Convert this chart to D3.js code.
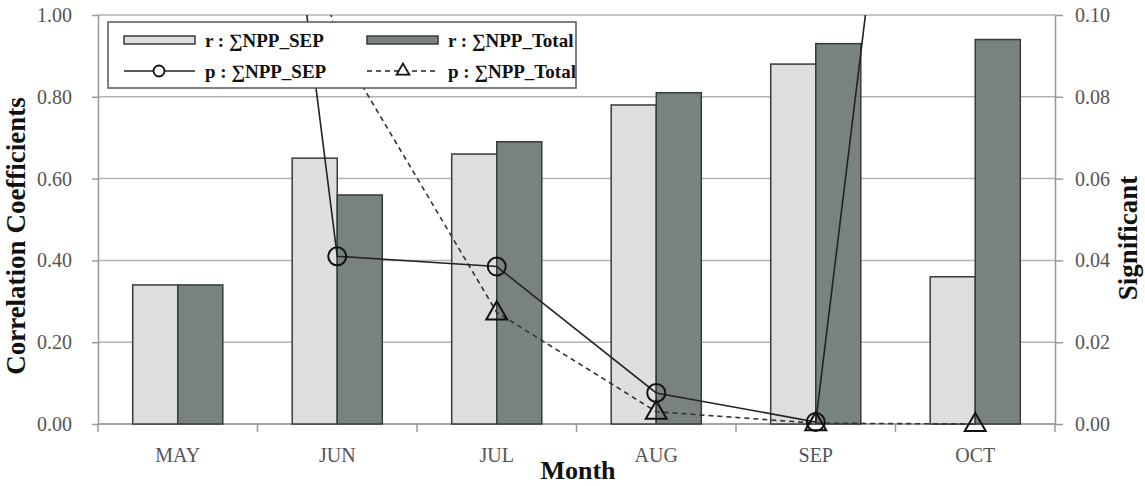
<!DOCTYPE html>
<html>
<head>
<meta charset="utf-8">
<script src="https://cdn.jsdelivr.net/npm/d3@7"></script>
<style>
  body { margin: 0; background: #fff; }
  svg, svg text { font-family: 'Liberation Serif', 'Times New Roman', serif; }
  .tick-label { fill: #555; font-size: 20px; }
  .axis-title { fill: #111; font-size: 27px; font-weight: bold; }
  .legend-label { fill: #111; font-size: 19px; font-weight: bold; }
</style>
</head>
<body>
<div id="chart"></div>
<script>
// Data
const months = ['MAY', 'JUN', 'JUL', 'AUG', 'SEP', 'OCT'];
const seriesKeys = ['sep', 'total'];
const rSep = [0.34, 0.65, 0.66, 0.78, 0.88, 0.36];
const rTotal = [0.34, 0.56, 0.69, 0.81, 0.93, 0.94];
const pSep = [0.35, 0.041, 0.0385, 0.0076, 0.0005, 0.32];
const pTotal = [0.275, 0.093, 0.0273, 0.003, 0.0002, 0.0];
const leftTicks = [0, 0.2, 0.4, 0.6, 0.8, 1.0];
const rightTicks = [0, 0.02, 0.04, 0.06, 0.08, 0.10];

const config = {
  containerWidth: 1145,
  containerHeight: 486,
  margin: {top: 15, right: 90, bottom: 62, left: 98}
};
const colors = {sep: '#dcdfde', total: '#78837f'};

const width = config.containerWidth - config.margin.left - config.margin.right;
const height = config.containerHeight - config.margin.top - config.margin.bottom;

const svg = d3.select('#chart').append('svg')
    .attr('width', config.containerWidth)
    .attr('height', config.containerHeight);

const chart = svg.append('g')
    .attr('transform', `translate(${config.margin.left},${config.margin.top})`);

// Scales
const x0 = d3.scaleBand().domain(months).range([0, width]).padding(0);
const x1 = d3.scaleBand().domain(seriesKeys).range([0, x0.bandwidth()])
    .paddingInner(0).paddingOuter(0.77);
const yLeft = d3.scaleLinear().domain([0, 1]).range([height, 0]);
const yRight = d3.scaleLinear().domain([0, 0.1]).range([height, 0]);

// Gridlines
chart.append('g').selectAll('line')
    .data(leftTicks)
  .join('line')
    .attr('x1', 0).attr('x2', width)
    .attr('y1', d => yLeft(d)).attr('y2', d => yLeft(d))
    .attr('stroke', '#b3b3b3').attr('stroke-width', 1.5);

// Left axis
const leftAxis = chart.append('g')
    .call(d3.axisLeft(yLeft).tickValues(leftTicks).tickFormat(d3.format('.2f'))
      .tickSizeInner(6).tickSizeOuter(0).tickPadding(20));
leftAxis.attr('font-family', null).attr('font-size', null);
leftAxis.select('.domain').attr('stroke', '#999').attr('stroke-width', 1.5);
leftAxis.selectAll('.tick line').attr('stroke', '#999').attr('stroke-width', 1.5).attr('x2', -6).attr('x1', 1);
leftAxis.selectAll('.tick text').attr('class', 'tick-label').attr('fill', null);

// Right axis
const rightAxis = chart.append('g')
    .attr('transform', `translate(${width},0)`)
    .call(d3.axisRight(yRight).tickValues(rightTicks).tickFormat(d3.format('.2f'))
      .tickSizeInner(8).tickSizeOuter(0).tickPadding(12));
rightAxis.attr('font-family', null).attr('font-size', null);
rightAxis.select('.domain').attr('stroke', '#999').attr('stroke-width', 1.5);
rightAxis.selectAll('.tick line').attr('stroke', '#999').attr('stroke-width', 1.5);
rightAxis.selectAll('.tick text').attr('class', 'tick-label').attr('fill', null);

// Bottom axis: ticks sit between the month bands
const bottom = chart.append('g').attr('transform', `translate(0,${height})`);
bottom.append('line')
    .attr('x1', 0).attr('x2', width)
    .attr('stroke', '#999').attr('stroke-width', 1.5);
bottom.selectAll('.sep-tick')
    .data(months.concat(['end']))
  .join('line')
    .attr('class', 'sep-tick')
    .attr('x1', (d, i) => i * x0.step()).attr('x2', (d, i) => i * x0.step())
    .attr('y1', 0).attr('y2', 8)
    .attr('stroke', '#999').attr('stroke-width', 1.5);
bottom.selectAll('.month-label')
    .data(months)
  .join('text')
    .attr('class', 'tick-label month-label')
    .attr('x', d => x0(d) + x0.bandwidth() / 2)
    .attr('y', 38)
    .attr('text-anchor', 'middle')
    .text(d => d);

// Bars
const barData = months.map((m, i) => ({month: m, values: [
  {key: 'sep', value: rSep[i]}, {key: 'total', value: rTotal[i]}
]}));
chart.append('g').selectAll('g')
    .data(barData)
  .join('g')
    .attr('transform', d => `translate(${x0(d.month)},0)`)
  .selectAll('rect')
    .data(d => d.values)
  .join('rect')
    .attr('x', d => x1(d.key))
    .attr('width', x1.bandwidth())
    .attr('y', d => yLeft(d.value))
    .attr('height', d => height - yLeft(d.value))
    .attr('fill', d => colors[d.key])
    .attr('stroke', '#3a3a3a')
    .attr('stroke-width', 1.5);

// p-value lines (clipped to the plot area)
svg.append('defs').append('clipPath').attr('id', 'plot-clip')
  .append('rect').attr('x', 0).attr('y', 0).attr('width', width).attr('height', height + 2);

const xMid = m => x0(m) + x0.bandwidth() / 2;
const line = d3.line().x(d => xMid(d.month)).y(d => yRight(d.value));
const sepPoints = months.map((m, i) => ({month: m, value: pSep[i]}));
const totalPoints = months.map((m, i) => ({month: m, value: pTotal[i]}));

const lines = chart.append('g').attr('clip-path', 'url(#plot-clip)');
lines.append('path')
    .attr('d', line(totalPoints))
    .attr('fill', 'none').attr('stroke', '#333').attr('stroke-width', 1.6)
    .attr('stroke-dasharray', '5,4');
lines.append('path')
    .attr('d', line(sepPoints))
    .attr('fill', 'none').attr('stroke', '#222').attr('stroke-width', 1.6);

const triangle = d3.symbol().type(d3.symbolTriangle).size(190);
chart.append('g').selectAll('path')
    .data(totalPoints.filter(d => d.value <= 0.1))
  .join('path')
    .attr('transform', d => `translate(${xMid(d.month)},${yRight(d.value) + 1})`)
    .attr('d', triangle)
    .attr('fill', 'none').attr('stroke', '#111').attr('stroke-width', 2);
chart.append('g').selectAll('circle')
    .data(sepPoints.filter(d => d.value <= 0.1))
  .join('circle')
    .attr('cx', d => xMid(d.month))
    .attr('cy', d => yRight(d.value))
    .attr('r', 9)
    .attr('fill', 'none').attr('stroke', '#111').attr('stroke-width', 2);

// Legend box sits on top of the lines
const legend = chart.append('g').attr('transform', 'translate(10,7)');
legend.append('rect')
    .attr('width', 468).attr('height', 66)
    .attr('fill', '#fff').attr('stroke', '#555').attr('stroke-width', 1.5);

const legendItems = [
  {label: 'r : ∑NPP_SEP', type: 'bar', key: 'sep', col: 0, row: 0},
  {label: 'r : ∑NPP_Total', type: 'bar', key: 'total', col: 1, row: 0},
  {label: 'p : ∑NPP_SEP', type: 'solid', col: 0, row: 1},
  {label: 'p : ∑NPP_Total', type: 'dashed', col: 1, row: 1}
];
const item = legend.selectAll('.legend-item')
    .data(legendItems)
  .join('g')
    .attr('class', 'legend-item')
    .attr('transform', d => `translate(${16 + d.col * 243},${18 + d.row * 31})`);

item.filter(d => d.type === 'bar').append('rect')
    .attr('x', 0).attr('y', -4).attr('width', 71).attr('height', 8)
    .attr('fill', d => colors[d.key]).attr('stroke', '#3a3a3a').attr('stroke-width', 1.5);
item.filter(d => d.type !== 'bar').append('line')
    .attr('x1', 0).attr('x2', 71)
    .attr('stroke', '#222').attr('stroke-width', 1.5)
    .attr('stroke-dasharray', d => d.type === 'dashed' ? '5,4' : null);
item.filter(d => d.type === 'solid').append('circle')
    .attr('cx', 35).attr('r', 5.5)
    .attr('fill', '#fff').attr('stroke', '#111').attr('stroke-width', 1.8);
item.filter(d => d.type === 'dashed').append('path')
    .attr('transform', 'translate(36,0)')
    .attr('d', d3.symbol().type(d3.symbolTriangle).size(70))
    .attr('fill', '#fff').attr('stroke', '#111').attr('stroke-width', 1.8);
item.append('text')
    .attr('class', 'legend-label')
    .attr('x', 81)
    .attr('dy', '0.35em')
    .text(d => d.label);

// Axis titles
svg.append('text')
    .attr('class', 'axis-title')
    .attr('transform', 'translate(25,236) rotate(-90)')
    .attr('text-anchor', 'middle')
    .text('Correlation  Coefficients');
svg.append('text')
    .attr('class', 'axis-title')
    .attr('transform', 'translate(1137,238) rotate(-90)')
    .attr('text-anchor', 'middle')
    .text('Significant');
svg.append('text')
    .attr('class', 'axis-title')
    .attr('x', 578)
    .attr('y', 479)
    .attr('font-size', 26)
    .style('font-size', '26px')
    .attr('text-anchor', 'middle')
    .text('Month');
</script>
</body>
</html>
